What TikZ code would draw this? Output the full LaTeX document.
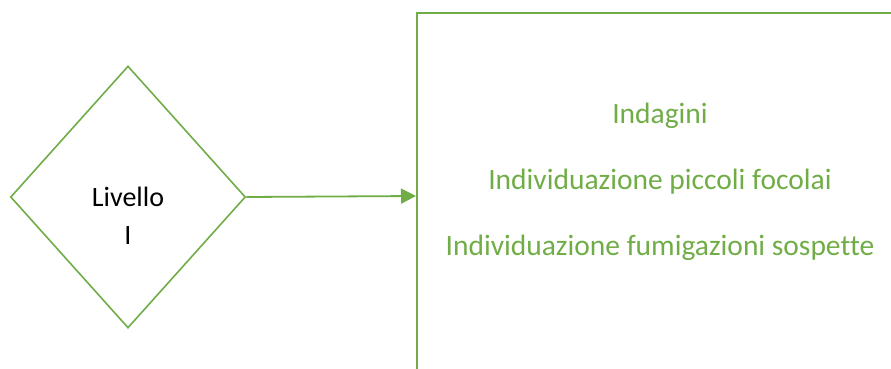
\documentclass[tikz,border=0pt]{standalone}
\usepackage{fontspec}
\setmainfont[Ligatures=NoCommon]{Carlito}
\usetikzlibrary{positioning,shapes.geometric,arrows.meta}

\definecolor{leafgreen}{HTML}{70AD47}

\begin{document}
\begin{tikzpicture}[
    x=1pt, y=-1pt,
    % Shape styles
    levelbox/.style={diamond, draw=leafgreen, line width=1.6pt, minimum width=235pt, minimum height=262pt, inner sep=0pt},
    taskbox/.style={rectangle, draw=leafgreen, line width=1.8pt, minimum width=490pt, minimum height=380pt, inner sep=0pt},
    % Text styles
    leveltext/.style={font=\fontsize{28}{38}\selectfont, text=black, align=center},
    tasktext/.style={font=\fontsize{29.5}{34}\selectfont, text=leafgreen, anchor=base},
    % Arrow styles
    link/.style={draw=leafgreen, line width=1.8pt, -{Triangle[length=15pt,width=15pt]}}
]
\useasboundingbox (0,0) rectangle (891,369);
\clip (0,0) rectangle (891,369);

% Decision diamond
\node[levelbox] (lvl) at (128,197) {};
\node[leveltext, anchor=base] (lvltxt) at (128,244) {Livello\\I}; % base = last line

% Task box (runs off the page on the right and at the bottom)
\node[taskbox, anchor=north west] (tasks) at (416,12) {};
\coordinate (tip) at (416,196);

% Task list
\node[tasktext] (t1) at (660,123) {Indagini};
\node[tasktext] (t2) at (660,189) {Individuazione piccoli focolai};
\node[tasktext] (t3) at (660,255) {Individuazione fumigazioni sospette};

% Connection
\draw[link] (lvl.east) -- (tip);

\end{tikzpicture}
\end{document}
